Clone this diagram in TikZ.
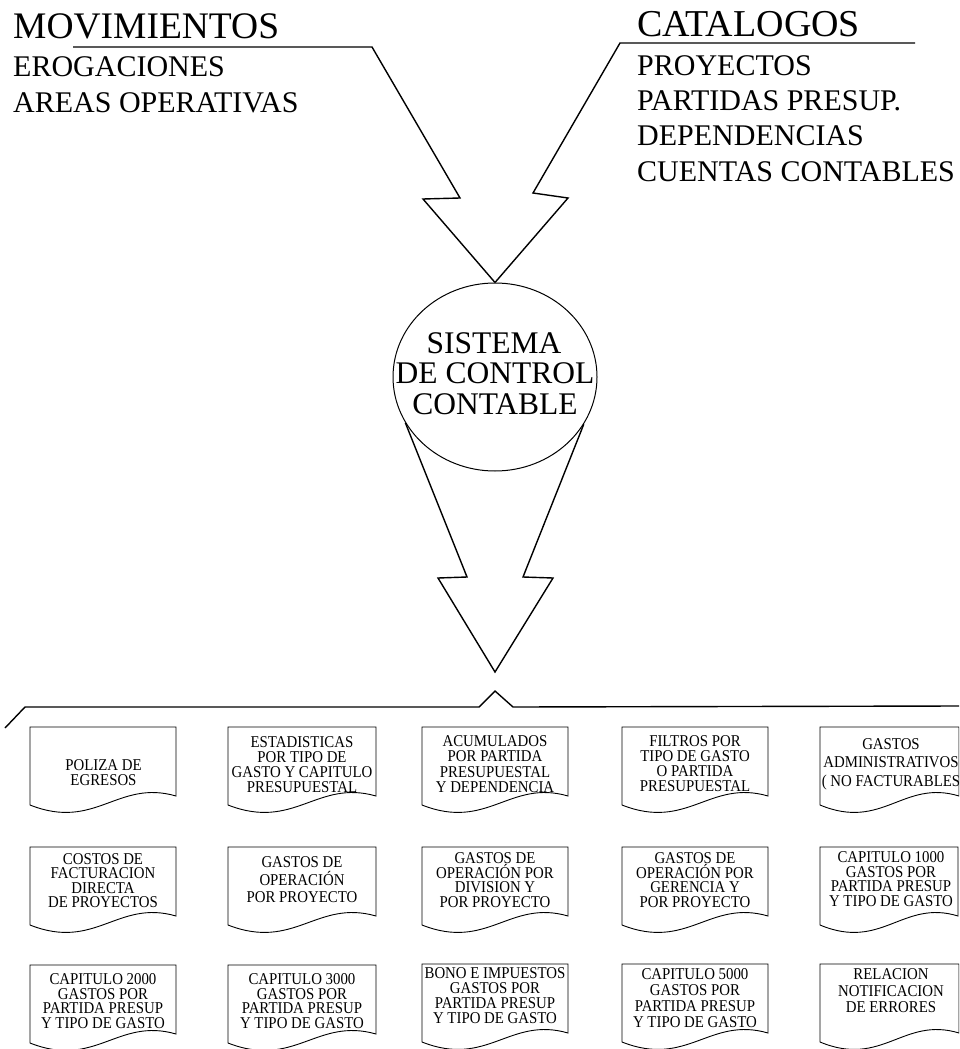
\documentclass[tikz,border=0pt]{standalone}
\usepackage{fontspec}
\setmainfont{Liberation Serif}
\newfontfamily\boxfont[FakeStretch=0.9]{Liberation Serif}
\usetikzlibrary{shapes.geometric}

% font for the text inside the document shapes, with a given line distance
\newcommand\boxtxt[1]{\boxfont\fontsize{16.5}{#1}\selectfont\lineskiplimit=-20pt\relax}

% document shape: name, left, top, width, text x, text y, line distance, text
\newcommand\docbox[8]{%
  \draw[docline] (#2,#3) -- (#2+#4,#3) -- (#2+#4,#3+69)
    .. controls (#2+0.6*#4,#3+52) and (#2+0.45*#4,#3+104) .. (#2,#3+78) -- cycle;
  \node[doctext, font=\boxtxt{#7}] (#1) at (#5,#6) {#8};
}

\tikzset{
  heading/.style={font=\fontsize{37.5}{37.5}\selectfont, inner sep=0, anchor=base west},
  item/.style={font=\fontsize{30}{35}\selectfont, inner sep=0, anchor=base west},
  systext/.style={font=\fontsize{31.5}{31.5}\selectfont, inner sep=0, anchor=base},
  doctext/.style={align=center, inner sep=0},
  bigarrow/.style={draw=black, line width=1.4pt, line join=miter},
  docline/.style={draw=black, line width=0.9pt},
}

\begin{document}
\begin{tikzpicture}[x=1pt, y=-1pt]
\useasboundingbox (0,0) rectangle (959,1049);
\clip (0,0) rectangle (959,1049);

% input headings and lists
\node[heading] (mov) at (13,38) {MOVIMIENTOS};
\node[item] (ero) at (13,77) {EROGACIONES};
\node[item] (are) at (13,112) {AREAS OPERATIVAS};

\node[heading, font=\fontsize{38}{38}\selectfont] (cat) at (637,37) {CATALOGOS};
\node[item] (pro) at (637,75) {PROYECTOS};
\node[item] (par) at (637,110) {PARTIDAS PRESUP.};
\node[item] (dep) at (637,145) {DEPENDENCIAS};
\node[item] (cue) at (637,181) {CUENTAS CONTABLES};

% central process
\node[ellipse, draw, line width=1pt, minimum width=204pt, minimum height=188pt, inner sep=0] (sys) at (495,377) {};
\node[systext] (s1) at (494,353) {SISTEMA};
\node[systext] (s2) at (495,383) {DE CONTROL};
\node[systext] (s3) at (495,414) {CONTABLE};

% incoming arrows, each starting from the heading rule
\coordinate (movrule) at (73,47);
\coordinate (catrule) at (915,43);
\draw[bigarrow] (movrule) -- (372,47) -- (460,198) -- (423,199) -- (sys.north);
\draw[bigarrow] (catrule) -- (620,43) -- (533,193) -- (568,198) -- (sys.north);

% outgoing arrow
\coordinate (outtip) at (495,672);
\draw[bigarrow] (sys.207) -- (467,577) -- (438,578) -- (outtip) -- (553,578) -- (523,577) -- (sys.332);

% bracket over the reports
\coordinate (brl) at (5,728);
\coordinate (brpeak) at (495,691);
\coordinate (brr) at (959,706);
\draw[bigarrow] (brl) -- (25,707) -- (479,707) -- (brpeak) -- (513,707) -- (brr);

% reports, first row
\docbox{r11}{30}{727}{146}{103.5}{772.5}{15}{POLIZA DE\\EGRESOS}
\docbox{r12}{228}{727}{148}{302}{765}{15}{ESTADISTICAS\\POR TIPO DE\\GASTO Y CAPITULO\\PRESUPUESTAL}
\docbox{r13}{422}{727}{146}{495}{764}{15.5}{ACUMULADOS\\POR PARTIDA\\PRESUPUESTAL\\Y DEPENDENCIA}
\docbox{r14}{622}{727}{146}{695}{764}{15}{FILTROS POR\\TIPO DE GASTO\\O PARTIDA\\PRESUPUESTAL}
\docbox{r15}{820}{727}{139}{891}{764}{18.5}{GASTOS\\ADMINISTRATIVOS\\( NO FACTURABLES}

% reports, second row
\docbox{r21}{30}{847}{146}{103}{880.5}{14.5}{COSTOS DE\\FACTURACION\\DIRECTA\\DE PROYECTOS}
\docbox{r22}{228}{847}{148}{302}{880}{17.5}{GASTOS DE\\OPERACIÓN\\POR PROYECTO}
\docbox{r23}{422}{847}{146}{495}{880}{14.5}{GASTOS DE\\OPERACIÓN POR\\DIVISION Y\\POR PROYECTO}
\docbox{r24}{622}{847}{146}{695}{880}{14.5}{GASTOS DE\\OPERACIÓN POR\\GERENCIA Y\\POR PROYECTO}
\docbox{r25}{820}{847}{138}{891}{879}{14.5}{CAPITULO 1000\\GASTOS POR\\PARTIDA PRESUP\\Y TIPO DE GASTO}

% reports, third row
\docbox{r31}{30}{965}{146}{103}{1001}{14.5}{CAPITULO 2000\\GASTOS POR\\PARTIDA PRESUP\\Y TIPO DE GASTO}
\docbox{r32}{228}{965}{148}{302}{1001}{14.5}{CAPITULO 3000\\GASTOS POR\\PARTIDA PRESUP\\Y TIPO DE GASTO}
\docbox{r33}{422}{964}{146}{495}{996}{15}{BONO E IMPUESTOS\\GASTOS POR\\PARTIDA PRESUP\\Y TIPO DE GASTO}
\docbox{r34}{622}{964}{146}{695}{998}{16}{CAPITULO 5000\\GASTOS POR\\PARTIDA PRESUP\\Y TIPO DE GASTO}
\docbox{r35}{820}{964}{139}{891}{991}{16.5}{RELACION\\NOTIFICACION\\DE ERRORES}
\end{tikzpicture}
\end{document}
